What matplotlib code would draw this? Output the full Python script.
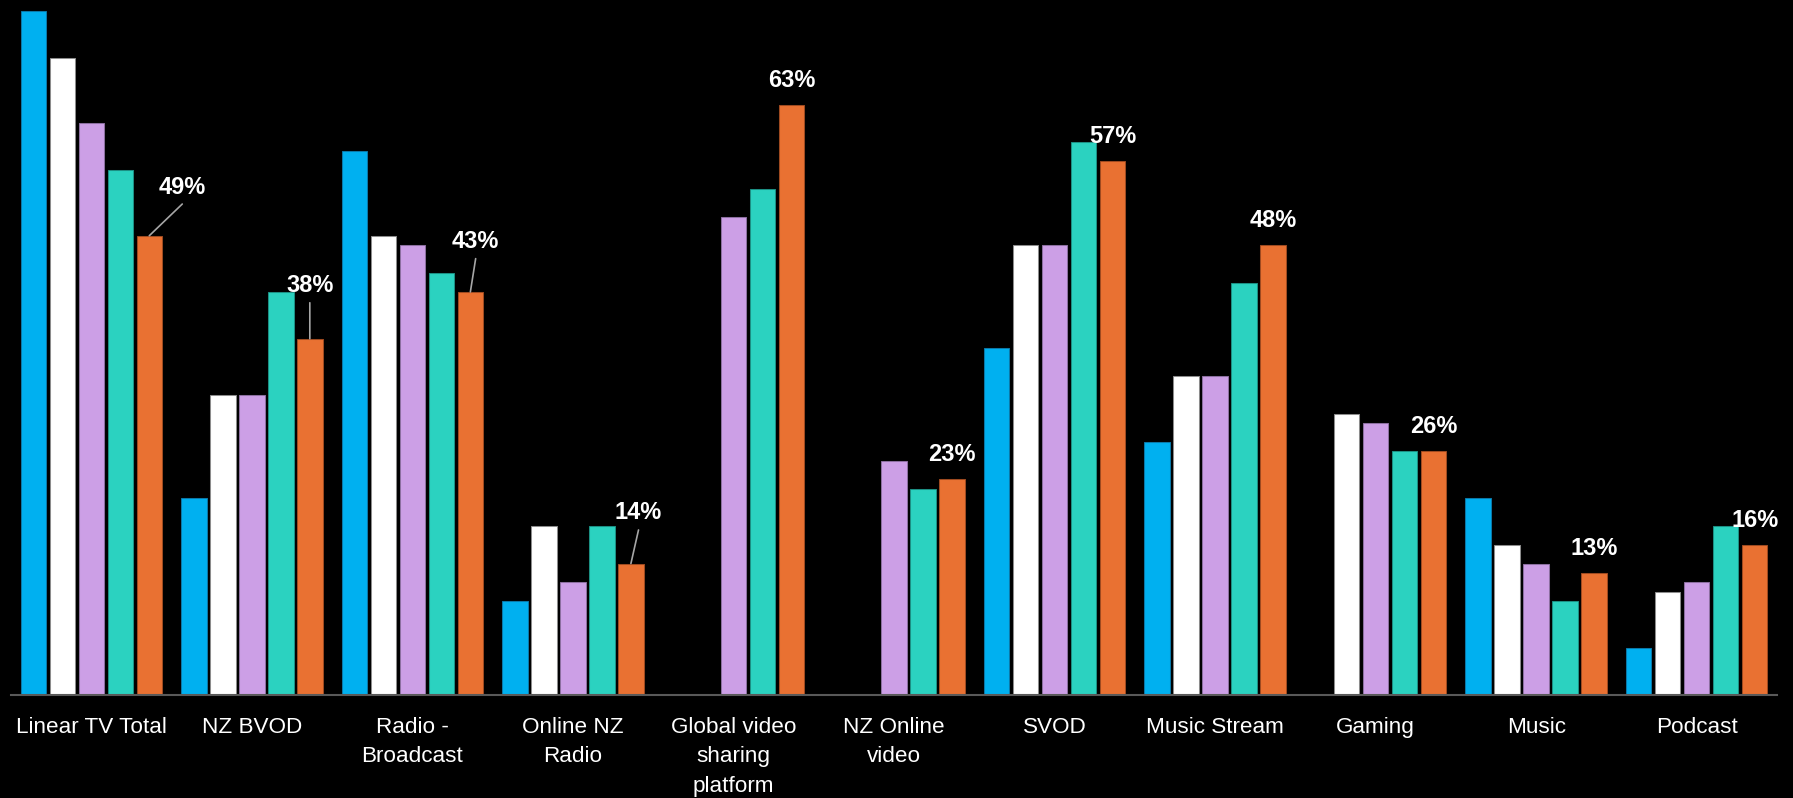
import numpy as np
import matplotlib
matplotlib.use("Agg")
import matplotlib.pyplot as plt

# Reach of each media category, by survey wave (percent)
categories = [
    "Linear TV Total", "NZ BVOD", "Radio -\nBroadcast", "Online NZ\nRadio",
    "Global video\nsharing\nplatform", "NZ Online\nvideo", "SVOD",
    "Music Stream", "Gaming", "Music", "Podcast",
]
nan = np.nan
wave_1 = [73, 21, 58, 10, nan, nan, 37, 27, nan, 21, 5]
wave_2 = [68, 32, 49, 18, nan, nan, 48, 34, 30, 16, 11]
wave_3 = [61, 32, 48, 12, 51, 25, 48, 34, 29, 14, 12]
wave_4 = [56, 43, 45, 18, 54, 22, 59, 44, 26, 10, 18]
wave_5 = [49, 38, 43, 14, 63, 23, 57, 48, 26, 13, 16]

series = [wave_1, wave_2, wave_3, wave_4, wave_5]
fills = ["#00B0F0", "#FFFFFF", "#CC9FE6", "#2BD2C0", "#E97132"]
edges = ["#0A78A8", "#8C8C8C", "#8C6FA0", "#1C8F83", "#9E4A20"]

# Offsets (pixels) of the latest-wave labels; leader lines where the label sits away
label_offsets = {0: (32.5, 41.7), 1: (0, 46.4), 2: (4.7, 44.3), 3: (7.5, 44.3)}
leader_ends = {0: (33, 31.7), 1: (0, 36), 2: (5.3, 33.3), 3: (7.6, 33.6)}

W, H, DPI = 1793, 798, 100
fig = plt.figure(figsize=(W / DPI, H / DPI), dpi=DPI, facecolor="black")
ax = fig.add_axes([11 / W, (H - 694.7) / H, (1777 - 11) / W, 694.7 / H])
ax.set_facecolor("black")

x = np.arange(len(categories))
step = 29 / 160.55
width = 25.4 / 160.55
for i, (vals, fc, ec) in enumerate(zip(series, fills, edges)):
    ax.bar(x + (i - 2) * step, vals, width=width, color=fc, edgecolor=ec,
           linewidth=0.75, zorder=2)

font = "Liberation Sans"
last = wave_5
for j, v in enumerate(last):
    bx = x[j] + 2 * step
    tx, ty = label_offsets.get(j, (0, 18))
    if j in leader_ends:
        ex, ey = leader_ends[j]
        ax.annotate("", xy=(bx, v), xytext=(ex, ey), textcoords="offset pixels",
                    arrowprops=dict(arrowstyle="-", color="#A6A6A6", lw=1.2,
                                    shrinkA=0, shrinkB=0), zorder=3)
    ax.annotate(f"{v:.0f}%", xy=(bx, v), xytext=(tx, ty),
                textcoords="offset pixels", ha="center", va="baseline",
                color="white", fontsize=17, fontweight="bold",
                family=font, zorder=4)

ax.set_xlim(-0.5, len(categories) - 0.5)
ax.set_ylim(0, 694.7 / 9.367)
ax.set_yticks([])
ax.set_xticks(x)
ax.set_xticklabels(categories, color="white", fontsize=16.2, family=font,
                   linespacing=1.52)
ax.tick_params(axis="x", length=0, pad=16)
for side in ("top", "right", "left"):
    ax.spines[side].set_visible(False)
ax.spines["bottom"].set_color("#595959")
ax.spines["bottom"].set_linewidth(1.5)
ax.spines["bottom"].set_zorder(5)

fig.savefig("out.png", dpi=DPI, facecolor="black")
